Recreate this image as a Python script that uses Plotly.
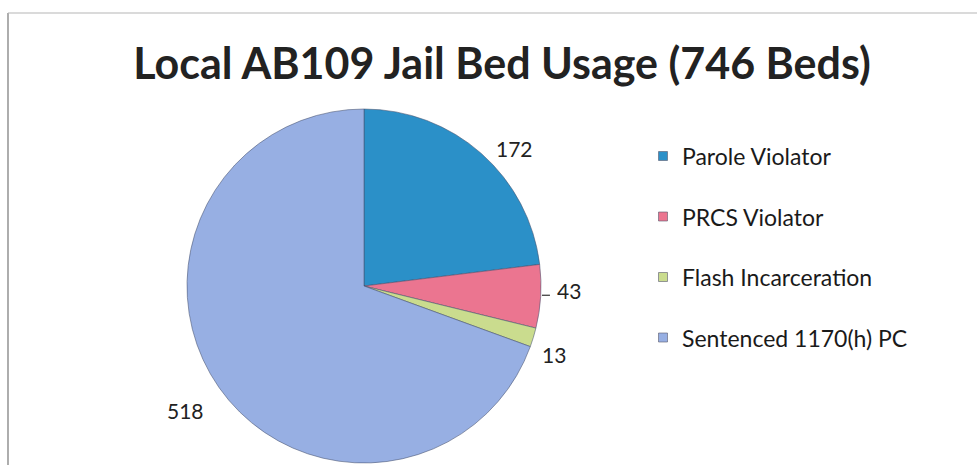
import math
import plotly.graph_objects as go

# Bed counts by category
categories = ["Parole Violator", "PRCS Violator", "Flash Incarceration", "Sentenced 1170(h) PC"]
beds = [172, 43, 13, 518]
colors = ["#2B90C8", "#EB7590", "#CADC8E", "#97AFE3"]
title_text = "Local AB109 Jail Bed Usage (746 Beds)"

W, H = 977, 465
cx, cy, R = 364, 286, 177  # pie centre and radius in pixels
FONT = "Lato, Carlito, sans-serif"

fig = go.Figure()
fig.add_trace(go.Pie(
    labels=categories,
    values=beds,
    sort=False,
    direction="clockwise",
    rotation=0,
    textinfo="none",
    hoverinfo="label+value",
    marker=dict(colors=colors, line=dict(color="rgba(70,80,110,0.55)", width=1)),
    domain=dict(x=[(cx - R) / W, (cx + R) / W], y=[(H - cy - R) / H, (H - cy + R) / H]),
    showlegend=False,
))

# Value labels around the pie, placed at each slice's mid-angle
total = sum(beds)
label_radius = [1.15, 1.16, 1.14, 1.23]
angle_shift = [6, -2, 3, 0]
annotations = []
shapes = []
start = 0.0
for i, v in enumerate(beds):
    sweep = v / total * 360
    mid = math.radians(start + sweep / 2 + angle_shift[i])
    r = R * label_radius[i]
    px = cx + r * math.sin(mid)
    py = cy - r * math.cos(mid)
    annotations.append(dict(
        x=px / W, y=1 - py / H, xref="paper", yref="paper",
        text=str(v), showarrow=False,
        font=dict(family=FONT, size=21, color="#222222"),
        xanchor="center", yanchor="middle",
    ))
    if i == 1:
        # short leader line for the narrow slice label
        ex = cx + R * math.sin(mid)
        ey = cy - R * math.cos(mid)
        shapes.append(dict(type="line", xref="paper", yref="paper",
                           x0=(ex + 1) / W, x1=(ex + 9) / W,
                           y0=1 - (ey + 5) / H, y1=1 - (ey + 5) / H,
                           line=dict(color="#333333", width=1.2)))
    start += sweep

# Legend drawn by hand: swatch + label per category
leg_x, leg_y0, leg_dy = 663, 156, 60.5
for i, name in enumerate(categories):
    yy = leg_y0 + i * leg_dy
    shapes.append(dict(type="rect", xref="paper", yref="paper",
                       x0=(leg_x - 4.5) / W, x1=(leg_x + 4.5) / W,
                       y0=1 - (yy - 4.5) / H, y1=1 - (yy + 4.5) / H,
                       fillcolor=colors[i], line=dict(color="rgba(90,90,110,0.6)", width=1)))
    annotations.append(dict(
        x=(leg_x + 17) / W, y=1 - yy / H, xref="paper", yref="paper",
        text=name, showarrow=False, xanchor="left", yanchor="middle",
        font=dict(family=FONT, size=23, color="#1a1a1a"),
    ))

# Chart frame edges
shapes.append(dict(type="line", xref="paper", yref="paper", x0=8 / W, x1=8 / W,
                   y0=0, y1=1 - 13 / H, line=dict(color="#777777", width=1.2)))
shapes.append(dict(type="line", xref="paper", yref="paper", x0=8 / W, x1=1,
                   y0=1 - 13 / H, y1=1 - 13 / H, line=dict(color="#b5b5b5", width=1)))

fig.update_layout(
    width=W, height=H,
    margin=dict(l=0, r=0, t=0, b=0),
    paper_bgcolor="white",
    plot_bgcolor="white",
    title=dict(text="<b>" + title_text + "</b>", x=502 / W, xanchor="center",
               y=1 - 64 / H, yanchor="middle",
               font=dict(family=FONT, size=43, color="#222222")),
    annotations=annotations,
    shapes=shapes,
)

fig.write_html("out.html")
